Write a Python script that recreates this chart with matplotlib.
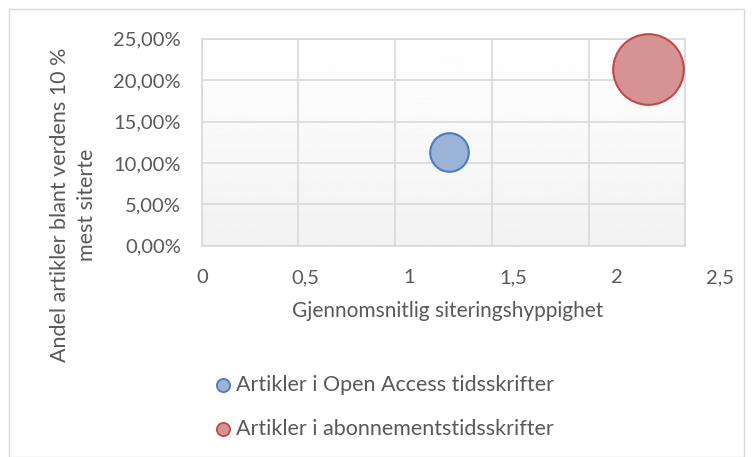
import numpy as np
from matplotlib import pyplot as plt
from matplotlib.patches import Rectangle
from matplotlib.ticker import FuncFormatter
from matplotlib.transforms import blended_transform_factory, offset_copy

plt.rcParams['font.family'] = ['Lato', 'DejaVu Sans']

labels = ['Artikler i Open Access tidsskrifter', 'Artikler i abonnementstidsskrifter']
citation_rate = [1.28, 2.31]
top10_share = [0.113, 0.213]
bubble_size = [1.0, 3.35]
x_ticks = [0, 0.5, 1, 1.5, 2, 2.5]

fills = ['#9cb3d8', '#d79393']
edges = ['#4a7ebb', '#be4b48']
text_col = '#595959'
grid_col = '#d9d9d9'

fig = plt.figure(figsize=(7.53, 4.57), dpi=100)
ax = fig.add_axes([0.268, 0.462, 0.642, 0.453])

# soft vertical gradient in the plot area (white at top, light grey at bottom)
grad = np.linspace(0.949, 1.0, 256).reshape(-1, 1)
ax.imshow(grad, cmap='gray', vmin=0, vmax=1, aspect='auto', origin='lower',
          extent=[0, 2.5, 0, 0.25], zorder=0)

ax.set_xlim(0, 2.5)
ax.set_ylim(0, 0.25)
ax.set_xticks(x_ticks)
ax.set_yticks(np.arange(0, 0.251, 0.05))
ax.yaxis.set_major_formatter(FuncFormatter(lambda v, p: ('%.2f%%' % (v * 100)).replace('.', ',')))
ax.grid(True, color=grid_col, linewidth=1.2, zorder=1)
ax.set_axisbelow(True)
for s in ax.spines.values():
    s.set_color(grid_col)
    s.set_linewidth(1.2)
ax.tick_params(length=0, labelsize=14.5, colors=text_col)
ax.tick_params(axis='y', pad=15)
ax.tick_params(axis='x', labelbottom=False)

# x labels drift right of their gridlines like in the original export
tr = offset_copy(blended_transform_factory(ax.transData, ax.transAxes), fig=fig, y=-17, units='points')
for v in x_ticks:
    ax.text(v * 1.0725, 0, ('%g' % v).replace('.', ','), transform=tr, ha='center', va='top',
            fontsize=14.5, color=text_col, clip_on=False)

scale = 772
for x, y, b, f, e, lab in zip(citation_rate, top10_share, bubble_size, fills, edges, labels):
    ax.scatter([x], [y], s=b * scale, color=f, edgecolor=e, linewidth=1.5,
               zorder=3, clip_on=False, label=lab)

fig.text(448 / 753, 1 - 311 / 457, 'Gjennomsnitlig siteringshyppighet', ha='center', va='center',
         fontsize=15, color=text_col)
fig.text(0.098, 0.551, 'Andel artikler blant verdens 10 %\nmest siterte', rotation=90,
         ha='center', va='center', fontsize=15.5, color=text_col, linespacing=1.45)

# legend below plot
for i, (lab, f, e) in enumerate(zip(labels, fills, edges)):
    yy = 1 - (385 + 44 * i) / 457
    fig.lines.append(plt.Line2D([223 / 753], [yy], marker='o', markersize=9.5,
                                markerfacecolor=f, markeredgecolor=e, markeredgewidth=1.3,
                                transform=fig.transFigure))
    fig.text(236 / 753, yy, lab, ha='left', va='center', fontsize=15.5, color=text_col)

fig.patches.append(Rectangle((9 / 753, 0), 735 / 753, 1 - 9 / 457 - 0.001,
                             transform=fig.transFigure, fill=False,
                             edgecolor=grid_col, linewidth=1))

fig.savefig('out.png', dpi=100)
